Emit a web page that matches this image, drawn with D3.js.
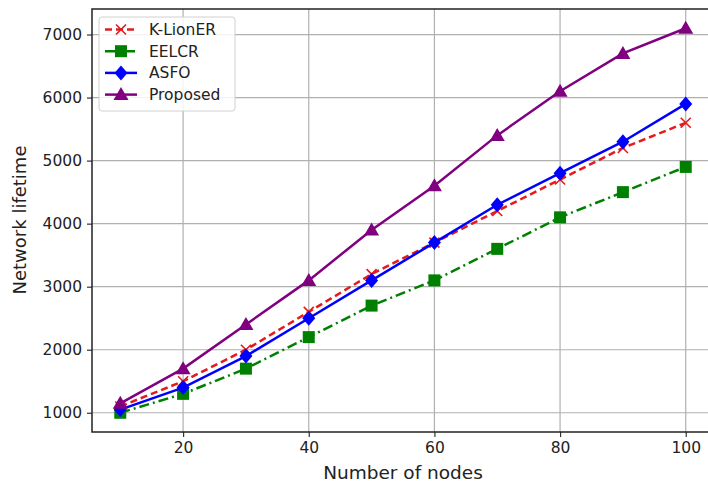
<!DOCTYPE html>
<html>
<head>
<meta charset="utf-8">
<script src="https://d3js.org/d3.v7.min.js"></script>
<style>
  body { margin: 0; background: #fff; }
  svg { font-family: "DejaVu Sans", sans-serif; }
  .grid line { stroke: #b0b0b0; stroke-width: 1.2; }
</style>
</head>
<body>
<svg width="708" height="486"></svg>
<script>
// data
var nodes = [10, 20, 30, 40, 50, 60, 70, 80, 90, 100];
var kLionER = [1100, 1500, 2000, 2600, 3200, 3700, 4200, 4700, 5200, 5600];
var eelcr = [1000, 1300, 1700, 2200, 2700, 3100, 3600, 4100, 4500, 4900];
var asfo = [1050, 1400, 1900, 2500, 3100, 3700, 4300, 4800, 5300, 5900];
var proposed = [1150, 1700, 2400, 3100, 3900, 4600, 5400, 6100, 6700, 7100];
var xTicks = [20, 40, 60, 80, 100];
var yTicks = [1000, 2000, 3000, 4000, 5000, 6000, 7000];

var series = [
  { name: "K-LionER", values: kLionER, color: "#e41a1c", dash: "7,4", marker: "x" },
  { name: "EELCR", values: eelcr, color: "#008000", dash: "10,4,2,4", marker: "square" },
  { name: "ASFO", values: asfo, color: "#0000ff", dash: null, marker: "diamond" },
  { name: "Proposed", values: proposed, color: "#800080", dash: null, marker: "triangle" }
];

var svg = d3.select("svg");
var pLeft = 92, pTop = 9, pRight = 714, pBottom = 432;

var x = d3.scaleLinear().domain([5.5, 104.5]).range([pLeft, pRight]);
var y = d3.scaleLinear().domain([695, 7405]).range([pBottom, pTop]);

// grid
svg.append("g").attr("class", "grid")
  .selectAll("line").data(xTicks).enter().append("line")
  .attr("x1", function(d) { return x(d); }).attr("x2", function(d) { return x(d); })
  .attr("y1", pTop).attr("y2", pBottom);
svg.append("g").attr("class", "grid")
  .selectAll("line").data(yTicks).enter().append("line")
  .attr("x1", pLeft).attr("x2", pRight)
  .attr("y1", function(d) { return y(d); }).attr("y2", function(d) { return y(d); });

// axes
var xAxis = svg.append("g")
  .attr("transform", "translate(0," + pBottom + ")")
  .call(d3.axisBottom(x).tickValues(xTicks).tickSize(5).tickPadding(5));
var yAxis = svg.append("g")
  .attr("transform", "translate(" + pLeft + ",0)")
  .call(d3.axisLeft(y).tickValues(yTicks).tickFormat(d3.format("d")).tickSize(5).tickPadding(5));
[xAxis, yAxis].forEach(function(a) {
  a.attr("font-size", 15.5).attr("font-family", "DejaVu Sans, sans-serif");
  a.select(".domain").remove();
  a.selectAll(".tick line").attr("stroke", "#333").attr("stroke-width", 1.2);
  a.selectAll(".tick text").attr("fill", "#222");
});

// frame
svg.append("rect")
  .attr("x", pLeft).attr("y", pTop)
  .attr("width", pRight - pLeft).attr("height", pBottom - pTop)
  .attr("fill", "none").attr("stroke", "#222").attr("stroke-width", 1.5);

// axis titles
svg.append("text")
  .attr("x", 403).attr("y", 479)
  .attr("text-anchor", "middle").attr("font-size", "18.5px").attr("fill", "#222")
  .text("Number of nodes");
svg.append("text")
  .attr("transform", "translate(26,220) rotate(-90)")
  .attr("text-anchor", "middle").attr("font-size", "18px").attr("fill", "#222")
  .text("Network lifetime");

function drawMarker(g, type, cx, cy, color) {
  if (type === "x") {
    var s = 5;
    g.append("path")
      .attr("d", "M" + (cx - s) + "," + (cy - s) + "L" + (cx + s) + "," + (cy + s) +
                 "M" + (cx - s) + "," + (cy + s) + "L" + (cx + s) + "," + (cy - s))
      .attr("stroke", color).attr("stroke-width", 1.6).attr("fill", "none");
  } else if (type === "square") {
    g.append("rect").attr("x", cx - 6).attr("y", cy - 6)
      .attr("width", 12).attr("height", 12).attr("fill", color);
  } else if (type === "diamond") {
    g.append("path")
      .attr("d", "M" + cx + "," + (cy - 7.5) + "L" + (cx + 6.5) + "," + cy + "L" + cx + "," + (cy + 7.5) + "L" + (cx - 6.5) + "," + cy + "Z")
      .attr("fill", color);
  } else {
    g.append("path")
      .attr("d", "M" + cx + "," + (cy - 7.5) + "L" + (cx + 7.5) + "," + (cy + 5.5) + "L" + (cx - 7.5) + "," + (cy + 5.5) + "Z")
      .attr("fill", color);
  }
}

var line = d3.line()
  .x(function(d, i) { return x(nodes[i]); })
  .y(function(d) { return y(d); });

series.forEach(function(s) {
  var g = svg.append("g");
  g.append("path")
    .attr("d", line(s.values))
    .attr("fill", "none")
    .attr("stroke", s.color)
    .attr("stroke-width", 2.5)
    .attr("stroke-dasharray", s.dash);
  s.values.forEach(function(v, i) {
    drawMarker(g, s.marker, x(nodes[i]), y(v), s.color);
  });
});

// legend
var lg = svg.append("g");
lg.append("rect")
  .attr("x", 99).attr("y", 17).attr("width", 136).attr("height", 94)
  .attr("rx", 3).attr("fill", "rgba(255,255,255,0.85)")
  .attr("stroke", "#d0d0d0");
series.forEach(function(s, i) {
  var cy = 29.5 + i * 21.7;
  lg.append("line")
    .attr("x1", 105).attr("x2", 137).attr("y1", cy).attr("y2", cy)
    .attr("stroke", s.color).attr("stroke-width", 2.5)
    .attr("stroke-dasharray", s.dash);
  drawMarker(lg, s.marker, 121, cy, s.color);
  lg.append("text")
    .attr("x", 149).attr("y", cy + 5.5)
    .attr("font-size", "15.5px").attr("fill", "#222")
    .text(s.name);
});
</script>
</body>
</html>
